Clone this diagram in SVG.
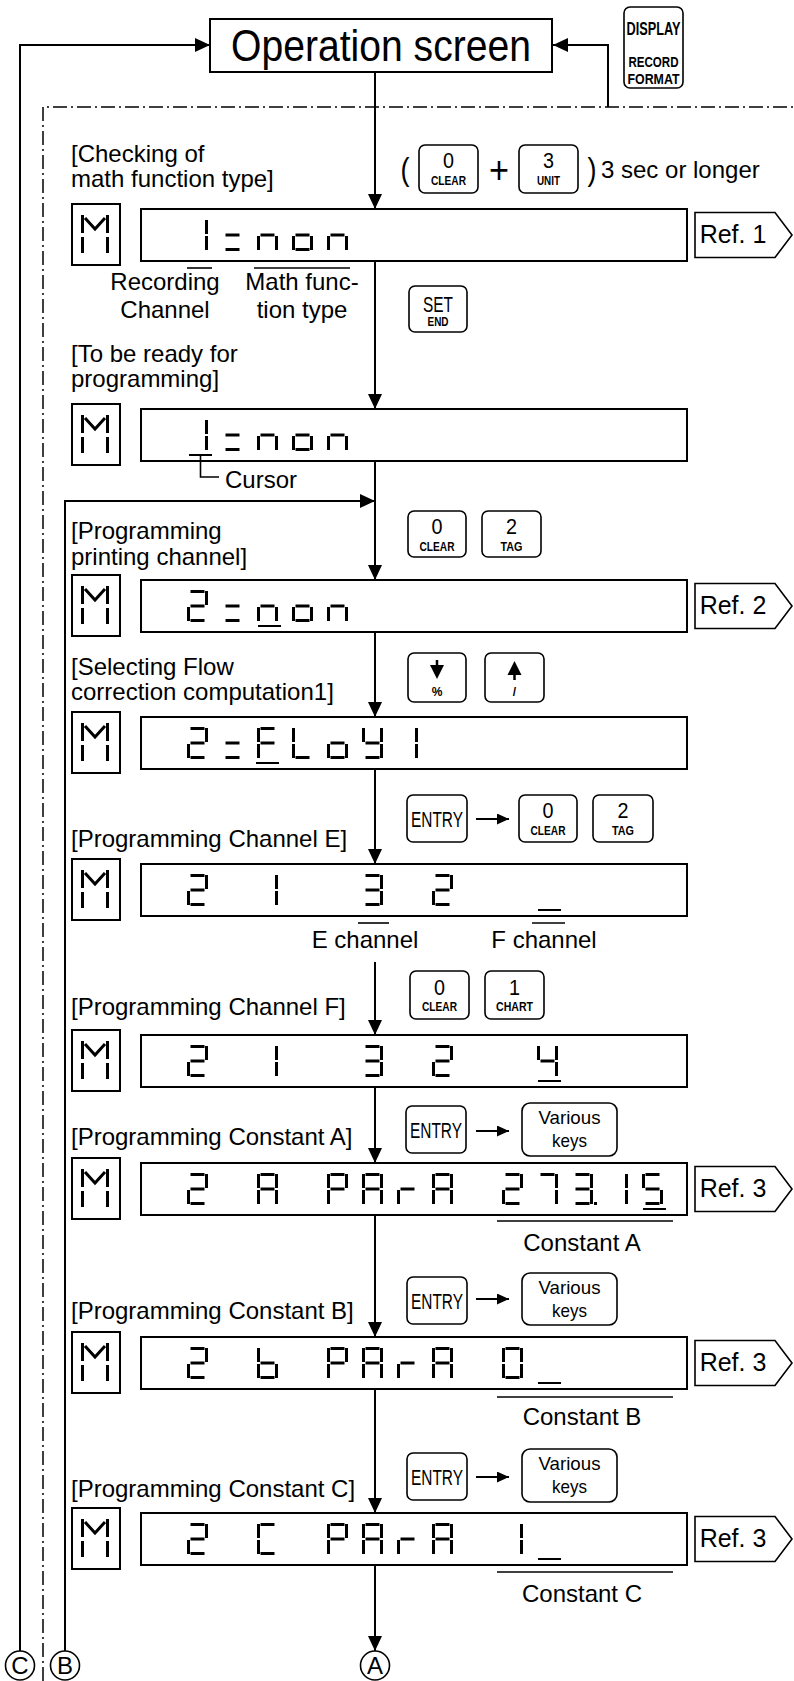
<svg xmlns="http://www.w3.org/2000/svg" xmlns:xlink="http://www.w3.org/1999/xlink" width="794" height="1681" viewBox="0 0 794 1681">
<style>
.t{font-family:"Liberation Sans",Arial,sans-serif;font-size:24px;fill:#000}
.c{text-anchor:middle}
.k{font-family:"Liberation Sans",Arial,sans-serif;fill:#000;text-anchor:middle}
.kb{font-weight:bold}
.box{fill:#fff;stroke:#000;stroke-width:2}
.mbox{fill:#fff;stroke:#000;stroke-width:2}
.key{fill:#fff;stroke:#000;stroke-width:1.6}
.ln{fill:none;stroke:#000;stroke-width:2}
.thin{fill:none;stroke:#000;stroke-width:1.6}
.ul{stroke:#000;stroke-width:2}
.dd{fill:none;stroke:#000;stroke-width:1.5;stroke-dasharray:14 4 2 4}
.ref{fill:#fff;stroke:#000;stroke-width:1.6}
.rt{font-size:25px}
</style>
<defs>
<marker id="ah" markerWidth="15" markerHeight="14" refX="15" refY="7" orient="auto" markerUnits="userSpaceOnUse"><path d="M0,0 L15,7 L0,14 z" fill="#000"/></marker>
<marker id="ahs" markerWidth="12" markerHeight="11" refX="12" refY="5.5" orient="auto" markerUnits="userSpaceOnUse"><path d="M0,0 L12,5.5 L0,11 z" fill="#000"/></marker>
<line id="sa" x1="3.5" y1="1.5" x2="17.5" y2="1.5"/>
<line id="sb" x1="19.5" y1="1" x2="19.5" y2="15"/>
<line id="sc" x1="19.5" y1="17" x2="19.5" y2="31"/>
<line id="sd" x1="3.5" y1="30.5" x2="17.5" y2="30.5"/>
<line id="se" x1="1.5" y1="17" x2="1.5" y2="31"/>
<line id="sf" x1="1.5" y1="1" x2="1.5" y2="15"/>
<line id="sg" x1="3.5" y1="16" x2="17.5" y2="16"/>
<g id="c1" stroke="#000" stroke-width="3"><use href="#sb"/><use href="#sc"/></g>
<g id="c2" stroke="#000" stroke-width="3"><use href="#sa"/><use href="#sb"/><use href="#sg"/><use href="#se"/><use href="#sd"/></g>
<g id="c3" stroke="#000" stroke-width="3"><use href="#sa"/><use href="#sb"/><use href="#sg"/><use href="#sc"/><use href="#sd"/></g>
<g id="c4" stroke="#000" stroke-width="3"><use href="#sf"/><use href="#sg"/><use href="#sb"/><use href="#sc"/></g>
<g id="c5" stroke="#000" stroke-width="3"><use href="#sa"/><use href="#sf"/><use href="#sg"/><use href="#sc"/><use href="#sd"/></g>
<g id="c7" stroke="#000" stroke-width="3"><use href="#sa"/><use href="#sb"/><use href="#sc"/></g>
<g id="c0" stroke="#000" stroke-width="3"><use href="#sa"/><use href="#sb"/><use href="#sc"/><use href="#sd"/><use href="#se"/><use href="#sf"/></g>
<g id="cA" stroke="#000" stroke-width="3"><use href="#sa"/><use href="#sb"/><use href="#sc"/><use href="#se"/><use href="#sf"/><use href="#sg"/></g>
<g id="cP" stroke="#000" stroke-width="3"><use href="#sa"/><use href="#sb"/><use href="#se"/><use href="#sf"/><use href="#sg"/></g>
<g id="cr" stroke="#000" stroke-width="3"><use href="#se"/><use href="#sg"/></g>
<g id="cb" stroke="#000" stroke-width="3"><use href="#sc"/><use href="#sd"/><use href="#se"/><use href="#sf"/><use href="#sg"/></g>
<g id="cC" stroke="#000" stroke-width="3"><use href="#sa"/><use href="#sd"/><use href="#se"/><use href="#sf"/></g>
<g id="cF" stroke="#000" stroke-width="3"><use href="#sa"/><use href="#se"/><use href="#sf"/><use href="#sg"/></g>
<g id="cL" stroke="#000" stroke-width="3"><use href="#sd"/><use href="#se"/><use href="#sf"/></g>
<g id="co" stroke="#000" stroke-width="3"><use href="#sc"/><use href="#sd"/><use href="#se"/><use href="#sg"/></g>
<g id="cn" stroke="#000" stroke-width="3"><use href="#sc"/><use href="#se"/><use href="#sg"/></g>
<g id="cY" stroke="#000" stroke-width="3"><use href="#sb"/><use href="#sc"/><use href="#sd"/><use href="#sf"/><use href="#sg"/></g>
<g id="ceq" stroke="#000" stroke-width="3"><use href="#sg"/><use href="#sd"/></g>
<g id="mg" stroke="#000" stroke-width="3" fill="none"><line x1="1.5" y1="0" x2="1.5" y2="18"/><line x1="1.5" y1="22" x2="1.5" y2="38"/><line x1="26.5" y1="0" x2="26.5" y2="18"/><line x1="26.5" y1="22" x2="26.5" y2="38"/><polyline points="4,3 14,14 24,3"/></g>
</defs>
<rect width="794" height="1681" fill="#fff"/>

<g id="connectors">
<path class="dd" d="M43,1681 V107 H794"/>
<path class="ln" d="M20,1651 V45 H210" marker-end="url(#ah)"/>
<path class="ln" d="M608,107 V45 H553" marker-end="url(#ah)"/>
<path class="ln" d="M65,1651 V501 H375" marker-end="url(#ah)"/>
<line class="ln" x1="375" y1="72" x2="375" y2="209" marker-end="url(#ah)"/>
<line class="ln" x1="375" y1="262" x2="375" y2="409" marker-end="url(#ah)"/>
<line class="ln" x1="375" y1="460" x2="375" y2="580" marker-end="url(#ah)"/>
<line class="ln" x1="375" y1="631" x2="375" y2="717" marker-end="url(#ah)"/>
<line class="ln" x1="375" y1="768" x2="375" y2="864" marker-end="url(#ah)"/>
<line class="ln" x1="375" y1="962" x2="375" y2="1035" marker-end="url(#ah)"/>
<line class="ln" x1="375" y1="1087" x2="375" y2="1163" marker-end="url(#ah)"/>
<line class="ln" x1="375" y1="1214" x2="375" y2="1337" marker-end="url(#ah)"/>
<line class="ln" x1="375" y1="1390" x2="375" y2="1513" marker-end="url(#ah)"/>
<line class="ln" x1="375" y1="1565" x2="375" y2="1651" marker-end="url(#ah)"/>
<line class="ln" x1="476" y1="819" x2="509" y2="819" marker-end="url(#ahs)"/>
<line class="ln" x1="476" y1="1131" x2="509" y2="1131" marker-end="url(#ahs)"/>
<line class="ln" x1="476" y1="1299" x2="509" y2="1299" marker-end="url(#ahs)"/>
<line class="ln" x1="476" y1="1477" x2="509" y2="1477" marker-end="url(#ahs)"/>
</g>

<g id="node-operation">
<rect class="box" x="210" y="19" width="342" height="53"/>
<text class="t c" x="381" y="61" style="font-size:44px" textLength="300" lengthAdjust="spacingAndGlyphs">Operation screen</text>
</g>

<g id="key-display">
<rect class="key" x="624" y="7" width="59" height="81" rx="6"/>
<text class="k kb" x="653.5" y="35" font-size="18" textLength="54" lengthAdjust="spacingAndGlyphs">DISPLAY</text>
<text class="k kb" x="653.5" y="67" font-size="15" textLength="50" lengthAdjust="spacingAndGlyphs">RECORD</text>
<text class="k kb" x="653.5" y="84" font-size="15" textLength="52" lengthAdjust="spacingAndGlyphs">FORMAT</text>
</g>

<g id="step1-label">
<text class="t" x="71" y="162">[Checking of</text>
<text class="t" x="71" y="187">math function type]</text>
<text class="k" x="405" y="180" font-size="32" textLength="9" lengthAdjust="spacingAndGlyphs">(</text>
<text class="t c" x="499" y="183" style="font-size:38px" textLength="20" lengthAdjust="spacingAndGlyphs">+</text>
<text class="k" x="592" y="180" font-size="32" textLength="9" lengthAdjust="spacingAndGlyphs">)</text>
<text class="t" x="601" y="178">3 sec or longer</text>
</g>
<g id="key-0-clear-1">
<rect class="key" x="419" y="145" width="59" height="48" rx="6"/>
<text class="k" x="448.5" y="168" font-size="22" textLength="11" lengthAdjust="spacingAndGlyphs">0</text>
<text class="k kb" x="448.5" y="185" font-size="12" textLength="35" lengthAdjust="spacingAndGlyphs">CLEAR</text>
</g>
<g id="key-3-unit">
<rect class="key" x="519" y="145" width="59" height="48" rx="6"/>
<text class="k" x="548.5" y="168" font-size="22" textLength="11" lengthAdjust="spacingAndGlyphs">3</text>
<text class="k kb" x="548.5" y="185" font-size="12" textLength="23" lengthAdjust="spacingAndGlyphs">UNIT</text>
</g>

<g id="node-d1">
<rect class="mbox" x="72" y="204" width="48" height="61"/>
<use href="#mg" x="81" y="215"/>
<rect class="box" x="141" y="209" width="546" height="52"/>
<use href="#c1" x="187" y="219"/><use href="#ceq" x="222" y="219"/><use href="#cn" x="257" y="219"/><use href="#co" x="292" y="219"/><use href="#cn" x="327" y="219"/>
<polygon class="ref" points="695,212.5 775,212.5 792,235 775,257.5 695,257.5"/>
<text class="t c rt" x="733" y="243">Ref. 1</text>
<line class="thin" x1="187" y1="268" x2="212" y2="268"/>
<line class="thin" x1="254" y1="268" x2="350" y2="268"/>
<text class="t c" x="165" y="290">Recording</text>
<text class="t c" x="165" y="318">Channel</text>
<text class="t c" x="302" y="290">Math func-</text>
<text class="t c" x="302" y="318">tion type</text>
</g>

<g id="key-set-end">
<rect class="key" x="409" y="286" width="58" height="46" rx="6"/>
<text class="k" x="438" y="312" font-size="22" textLength="30" lengthAdjust="spacingAndGlyphs">SET</text>
<text class="k kb" x="438" y="326" font-size="12" textLength="21" lengthAdjust="spacingAndGlyphs">END</text>
</g>

<g id="node-d2">
<text class="t" x="71" y="362">[To be ready for</text>
<text class="t" x="71" y="387">programming]</text>
<rect class="mbox" x="72" y="404" width="48" height="61"/>
<use href="#mg" x="81" y="415"/>
<rect class="box" x="141" y="409" width="546" height="52"/>
<use href="#c1" x="187" y="419"/><use href="#ceq" x="222" y="419"/><use href="#cn" x="257" y="419"/><use href="#co" x="292" y="419"/><use href="#cn" x="327" y="419"/>
<line class="ul" x1="189" y1="455" x2="212" y2="455"/>
<path class="thin" d="M200.5,455 V477 H219"/>
<text class="t" x="225" y="488">Cursor</text>
</g>

<g id="key-0-clear-2">
<rect class="key" x="408" y="511" width="58" height="46" rx="6"/>
<text class="k" x="437" y="534" font-size="22" textLength="11" lengthAdjust="spacingAndGlyphs">0</text>
<text class="k kb" x="437" y="551" font-size="12" textLength="35" lengthAdjust="spacingAndGlyphs">CLEAR</text>
</g>
<g id="key-2-tag-1">
<rect class="key" x="482" y="511" width="59" height="46" rx="6"/>
<text class="k" x="511.5" y="534" font-size="22" textLength="11" lengthAdjust="spacingAndGlyphs">2</text>
<text class="k kb" x="511.5" y="551" font-size="12" textLength="22" lengthAdjust="spacingAndGlyphs">TAG</text>
</g>

<g id="node-d3">
<text class="t" x="71" y="539">[Programming</text>
<text class="t" x="71" y="565">printing channel]</text>
<rect class="mbox" x="72" y="575" width="48" height="61"/>
<use href="#mg" x="81" y="586"/>
<rect class="box" x="141" y="580" width="546" height="52"/>
<use href="#c2" x="187" y="590"/><use href="#ceq" x="222" y="590"/><use href="#cn" x="257" y="590"/><use href="#co" x="292" y="590"/><use href="#cn" x="327" y="590"/>
<line class="ul" x1="258" y1="626" x2="281" y2="626"/>
<polygon class="ref" points="695,583.5 775,583.5 792,606 775,628.5 695,628.5"/>
<text class="t c rt" x="733" y="614">Ref. 2</text>
</g>

<g id="key-down">
<rect class="key" x="408" y="653" width="58" height="49" rx="6"/>
<line x1="437" y1="660" x2="437" y2="667" stroke="#000" stroke-width="2.5"/>
<polygon points="430,665 444,665 437,679" fill="#000"/>
<text class="k kb" x="437" y="696" font-size="12">%</text>
</g>
<g id="key-up">
<rect class="key" x="485" y="653" width="59" height="49" rx="6"/>
<polygon points="507.5,675 521.5,675 514.5,661" fill="#000"/>
<line x1="514.5" y1="673" x2="514.5" y2="680" stroke="#000" stroke-width="2.5"/>
<text class="k kb" x="514.5" y="696" font-size="12">/</text>
</g>

<g id="node-d4">
<text class="t" x="71" y="675">[Selecting Flow</text>
<text class="t" x="71" y="700">correction computation1]</text>
<rect class="mbox" x="72" y="712" width="48" height="61"/>
<use href="#mg" x="81" y="723"/>
<rect class="box" x="141" y="717" width="546" height="52"/>
<use href="#c2" x="187" y="727"/><use href="#ceq" x="222" y="727"/><use href="#cF" x="257" y="727"/><use href="#cL" x="292" y="727"/><use href="#co" x="327" y="727"/><use href="#cY" x="362" y="727"/><use href="#c1" x="397" y="727"/>
<line class="ul" x1="256" y1="763" x2="279" y2="763"/>
</g>

<g id="key-entry-1">
<rect class="key" x="407" y="795" width="60" height="47" rx="6"/>
<text class="k" x="437" y="827" font-size="22" textLength="52" lengthAdjust="spacingAndGlyphs">ENTRY</text>
</g>
<g id="key-0-clear-3">
<rect class="key" x="519" y="795" width="58" height="47" rx="6"/>
<text class="k" x="548" y="818" font-size="22" textLength="11" lengthAdjust="spacingAndGlyphs">0</text>
<text class="k kb" x="548" y="835" font-size="12" textLength="35" lengthAdjust="spacingAndGlyphs">CLEAR</text>
</g>
<g id="key-2-tag-2">
<rect class="key" x="593" y="795" width="60" height="47" rx="6"/>
<text class="k" x="623" y="818" font-size="22" textLength="11" lengthAdjust="spacingAndGlyphs">2</text>
<text class="k kb" x="623" y="835" font-size="12" textLength="22" lengthAdjust="spacingAndGlyphs">TAG</text>
</g>

<g id="node-d5">
<text class="t" x="71" y="847">[Programming Channel E]</text>
<rect class="mbox" x="72" y="859" width="48" height="61"/>
<use href="#mg" x="81" y="870"/>
<rect class="box" x="141" y="864" width="546" height="52"/>
<use href="#c2" x="187" y="874"/><use href="#c1" x="257" y="874"/><use href="#c3" x="362" y="874"/><use href="#c2" x="432" y="874"/>
<line class="ul" x1="538" y1="910" x2="561" y2="910"/>
<line class="thin" x1="358" y1="923" x2="389" y2="923"/>
<line class="thin" x1="532" y1="923" x2="565" y2="923"/>
<text class="t c" x="365" y="948">E channel</text>
<text class="t c" x="544" y="948">F channel</text>
</g>

<g id="key-0-clear-4">
<rect class="key" x="410" y="971" width="59" height="48" rx="6"/>
<text class="k" x="439.5" y="995" font-size="22" textLength="11" lengthAdjust="spacingAndGlyphs">0</text>
<text class="k kb" x="439.5" y="1011" font-size="12" textLength="35" lengthAdjust="spacingAndGlyphs">CLEAR</text>
</g>
<g id="key-1-chart">
<rect class="key" x="485" y="971" width="59" height="48" rx="6"/>
<text class="k" x="514.5" y="995" font-size="22" textLength="11" lengthAdjust="spacingAndGlyphs">1</text>
<text class="k kb" x="514.5" y="1011" font-size="12" textLength="37" lengthAdjust="spacingAndGlyphs">CHART</text>
</g>

<g id="node-d6">
<text class="t" x="71" y="1015">[Programming Channel F]</text>
<rect class="mbox" x="72" y="1030" width="48" height="61"/>
<use href="#mg" x="81" y="1041"/>
<rect class="box" x="141" y="1035" width="546" height="52"/>
<use href="#c2" x="187" y="1045"/><use href="#c1" x="257" y="1045"/><use href="#c3" x="362" y="1045"/><use href="#c2" x="432" y="1045"/><use href="#c4" x="537" y="1045"/>
<line class="ul" x1="538" y1="1081" x2="561" y2="1081"/>
</g>

<g id="key-entry-2">
<rect class="key" x="406" y="1106" width="60" height="47" rx="6"/>
<text class="k" x="436" y="1138" font-size="22" textLength="52" lengthAdjust="spacingAndGlyphs">ENTRY</text>
</g>
<g id="key-various-1">
<rect class="key" x="522" y="1103" width="95" height="53" rx="8"/>
<text class="k" x="569.5" y="1124" font-size="19" textLength="62" lengthAdjust="spacingAndGlyphs">Various</text>
<text class="k" x="569.5" y="1147" font-size="19" textLength="35" lengthAdjust="spacingAndGlyphs">keys</text>
</g>

<g id="node-d7">
<text class="t" x="71" y="1145">[Programming Constant A]</text>
<rect class="mbox" x="72" y="1158" width="48" height="61"/>
<use href="#mg" x="81" y="1169"/>
<rect class="box" x="141" y="1163" width="546" height="52"/>
<use href="#c2" x="187" y="1173"/><use href="#cA" x="257" y="1173"/><use href="#cP" x="327" y="1173"/><use href="#cA" x="362" y="1173"/><use href="#cr" x="397" y="1173"/><use href="#cA" x="432" y="1173"/>
<use href="#c2" x="502" y="1173"/><use href="#c7" x="537" y="1173"/><use href="#c3" x="572" y="1173"/><rect x="594" y="1202" width="3" height="3" fill="#000"/><use href="#c1" x="607" y="1173"/><use href="#c5" x="642" y="1173"/>
<line class="ul" x1="643" y1="1209" x2="666" y2="1209"/>
<polygon class="ref" points="695,1166.5 775,1166.5 792,1189 775,1211.5 695,1211.5"/>
<text class="t c rt" x="733" y="1197">Ref. 3</text>
<line class="thin" x1="497" y1="1221" x2="673" y2="1221"/>
<text class="t c" x="582" y="1251">Constant A</text>
</g>

<g id="key-entry-3">
<rect class="key" x="407" y="1277" width="60" height="47" rx="6"/>
<text class="k" x="437" y="1309" font-size="22" textLength="52" lengthAdjust="spacingAndGlyphs">ENTRY</text>
</g>
<g id="key-various-2">
<rect class="key" x="522" y="1273" width="95" height="52" rx="8"/>
<text class="k" x="569.5" y="1294" font-size="19" textLength="62" lengthAdjust="spacingAndGlyphs">Various</text>
<text class="k" x="569.5" y="1317" font-size="19" textLength="35" lengthAdjust="spacingAndGlyphs">keys</text>
</g>

<g id="node-d8">
<text class="t" x="71" y="1319">[Programming Constant B]</text>
<rect class="mbox" x="72" y="1332" width="48" height="61"/>
<use href="#mg" x="81" y="1343"/>
<rect class="box" x="141" y="1337" width="546" height="52"/>
<use href="#c2" x="187" y="1347"/><use href="#cb" x="257" y="1347"/><use href="#cP" x="327" y="1347"/><use href="#cA" x="362" y="1347"/><use href="#cr" x="397" y="1347"/><use href="#cA" x="432" y="1347"/><use href="#c0" x="502" y="1347"/>
<line class="ul" x1="538" y1="1383" x2="561" y2="1383"/>
<polygon class="ref" points="695,1340.5 775,1340.5 792,1363 775,1385.5 695,1385.5"/>
<text class="t c rt" x="733" y="1371">Ref. 3</text>
<line class="thin" x1="497" y1="1397" x2="673" y2="1397"/>
<text class="t c" x="582" y="1425">Constant B</text>
</g>

<g id="key-entry-4">
<rect class="key" x="407" y="1453" width="60" height="47" rx="6"/>
<text class="k" x="437" y="1485" font-size="22" textLength="52" lengthAdjust="spacingAndGlyphs">ENTRY</text>
</g>
<g id="key-various-3">
<rect class="key" x="522" y="1449" width="95" height="53" rx="8"/>
<text class="k" x="569.5" y="1470" font-size="19" textLength="62" lengthAdjust="spacingAndGlyphs">Various</text>
<text class="k" x="569.5" y="1493" font-size="19" textLength="35" lengthAdjust="spacingAndGlyphs">keys</text>
</g>

<g id="node-d9">
<text class="t" x="71" y="1497">[Programming Constant C]</text>
<rect class="mbox" x="72" y="1508" width="48" height="61"/>
<use href="#mg" x="81" y="1519"/>
<rect class="box" x="141" y="1513" width="546" height="52"/>
<use href="#c2" x="187" y="1523"/><use href="#cC" x="257" y="1523"/><use href="#cP" x="327" y="1523"/><use href="#cA" x="362" y="1523"/><use href="#cr" x="397" y="1523"/><use href="#cA" x="432" y="1523"/><use href="#c1" x="502" y="1523"/>
<line class="ul" x1="538" y1="1559" x2="561" y2="1559"/>
<polygon class="ref" points="695,1516.5 775,1516.5 792,1539 775,1561.5 695,1561.5"/>
<text class="t c rt" x="733" y="1547">Ref. 3</text>
<line class="thin" x1="497" y1="1572" x2="673" y2="1572"/>
<text class="t c" x="582" y="1602">Constant C</text>
</g>

<g id="node-C">
<circle cx="20" cy="1665.5" r="14.5" fill="#fff" stroke="#000" stroke-width="1.6"/>
<text class="t c" x="20" y="1674">C</text>
</g>
<g id="node-B">
<circle cx="65" cy="1665.5" r="14.5" fill="#fff" stroke="#000" stroke-width="1.6"/>
<text class="t c" x="65" y="1674">B</text>
</g>
<g id="node-A">
<circle cx="375" cy="1665.5" r="14.5" fill="#fff" stroke="#000" stroke-width="1.6"/>
<text class="t c" x="375" y="1674">A</text>
</g>
</svg>
